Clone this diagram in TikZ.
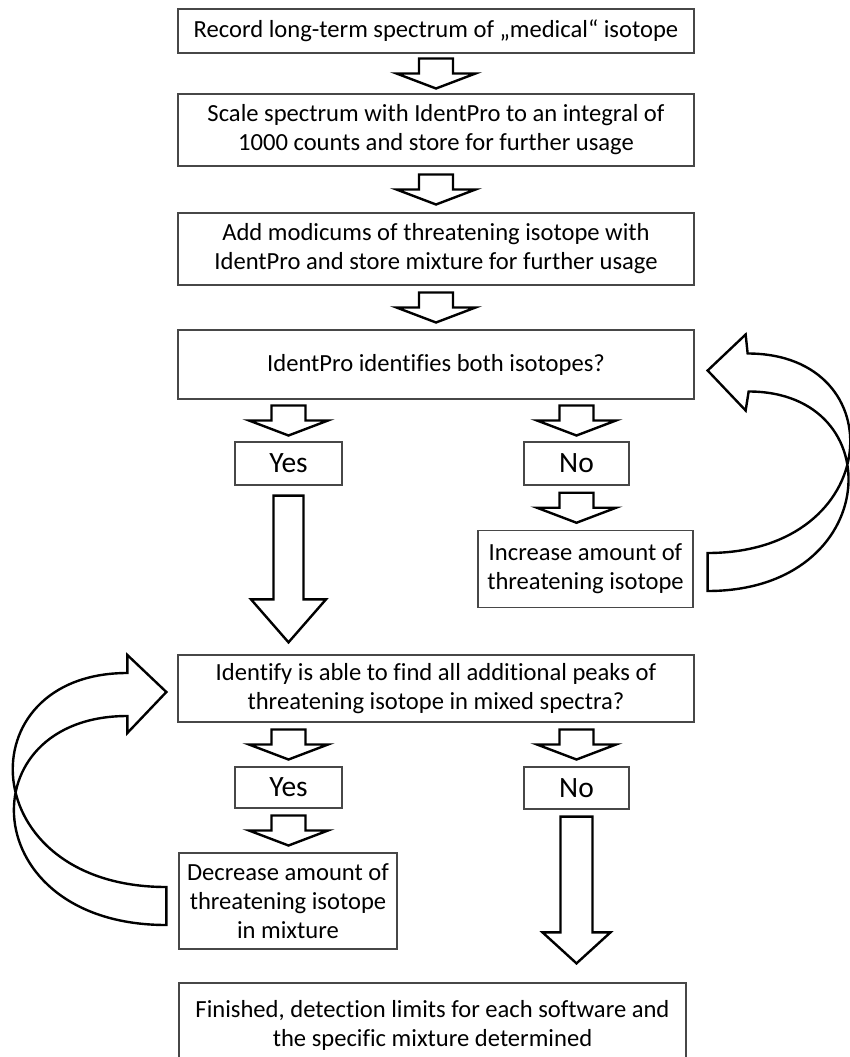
\documentclass[tikz,border=0pt]{standalone}
\usepackage{fontspec}
\setmainfont{Carlito}[Ligatures=NoCommon]
\usetikzlibrary{calc}
\tikzset{
  box/.style={draw=black!72, line width=1.3pt, align=center, inner sep=0pt,
    font=\fontsize{24.6}{29}\selectfont},
  yn/.style={box, font=\fontsize{29.5}{32}\selectfont},
  blk/.style={draw=black, line width=2.4pt, line join=miter},
}
\newcommand{\sdown}[2]{%
  \draw[blk] let \p1=($(#1)!0.5!(#2)$), \p2=(#2) in
    (\x2-17pt,\y1+15pt) -- (\x2+17pt,\y1+15pt) -- (\x2+17pt,\y1) -- (\x2+39.5pt,\y1)
    -- (\x2,\y1-15pt) -- (\x2-39.5pt,\y1) -- (\x2-17pt,\y1) -- cycle;}
\newcommand{\bdown}[5]{%
  \draw[blk] let \p1=(#1), \p2=(#2) in
    (\x1-#3,\y1) -- (\x1+#3,\y1) -- (\x1+#3,\y2+#5) -- (\x1+#4,\y2+#5)
    -- (\x1,\y2) -- (\x1-#4,\y2+#5) -- (\x1-#3,\y2+#5) -- cycle;}
\begin{document}
\begin{tikzpicture}[x=1pt,y=-1pt]
\useasboundingbox (0,0) rectangle (849,1057);

\node[box, minimum width=516pt, minimum height=44pt] (b1) at (436,31)
  {Record long-term spectrum of „medical“ isotope};
\node[box, minimum width=516pt, minimum height=72pt] (b2) at (436,130)
  {Scale spectrum with IdentPro to an integral of\\1000 counts and store for further usage};
\node[box, minimum width=516pt, minimum height=72pt] (b3) at (436,249)
  {Add modicums of threatening isotope with\\IdentPro and store mixture for further usage};
\node[box, minimum width=516pt, minimum height=69pt] (b4) at (436,364.5)
  {IdentPro identifies both isotopes?};
\node[yn, minimum width=107pt, minimum height=43pt] (yes1) at (288.5,463.5) {Yes};
\node[yn, minimum width=105pt, minimum height=43pt] (no1) at (576.5,463.5) {No};
\node[box, minimum width=215pt, minimum height=77pt] (inc) at (585.5,569)
  {Increase amount of\\threatening isotope};
\node[box, minimum width=516pt, minimum height=67pt] (b5) at (436,688.5)
  {Identify is able to find all additional peaks of\\threatening isotope in mixed spectra?};
\node[yn, minimum width=107pt, minimum height=41pt] (yes2) at (288.5,787.5) {Yes};
\node[yn, minimum width=105pt, minimum height=42pt] (no2) at (576.5,788) {No};
\node[box, minimum width=218pt, minimum height=96pt] (dec) at (288,901)
  {Decrease amount of\\threatening isotope\\in mixture};
\node[box, minimum width=507pt, minimum height=84pt] (fin) at (432.5,1025)
  {Finished, detection limits for each software and\\the specific mixture determined};

% small block arrows
\sdown{b1.south}{b2.north}
\sdown{b2.south}{b3.north}
\sdown{b3.south}{b4.north}
\sdown{yes1.north |- b4.south}{yes1.north}
\sdown{no1.north |- b4.south}{no1.north}
\sdown{no1.south}{no1.south |- inc.north}
\sdown{yes2.north |- b5.south}{yes2.north}
\sdown{no2.north |- b5.south}{no2.north}
\sdown{yes2.south}{yes2.south |- dec.north}

% big block arrows
\bdown{$(yes1.south)+(0,10)$}{$(yes1.south |- b5.north)+(0,-12)$}{15pt}{37.5pt}{43pt}
\bdown{$(no2.south)+(0,7)$}{$(no2.south |- fin.north)+(0,-19)$}{16pt}{34pt}{31pt}

% curved arrow: Increase -> IdentPro identifies
\coordinate (rtip) at ($(b4.east)+(13,6)$);
\coordinate (rtail) at ($(inc.east)+(14,3)$);
\draw[blk] (rtip) -- ($(rtip)+(38,-36)$) -- ($(rtip)+(40,-17)$)
  .. controls ($(rtip)+(188,-17)$) and ($(rtail)+(177,-19)$) .. ($(rtail)+(0,-19)$)
  -- ($(rtail)+(0,19)$)
  .. controls ($(rtail)+(175,19)$) and ($(rtip)+(185,21)$) .. ($(rtip)+(41,21)$)
  -- ($(rtip)+(38,40)$) -- cycle;

% curved arrow: Decrease -> Identify
\coordinate (ltip) at ($(b5.west)+(-11,3.5)$);
\coordinate (ltail) at ($(dec.west)+(-12,5)$);
\draw[blk] (ltip) -- ($(ltip)+(-39,-37)$) -- ($(ltip)+(-39,-19)$)
  .. controls ($(ltip)+(-202,-19)$) and ($(ltail)+(-193,-19)$) .. ($(ltail)+(0,-19)$)
  -- ($(ltail)+(0,19)$)
  .. controls ($(ltail)+(-192,19)$) and ($(ltip)+(-200,24)$) .. ($(ltip)+(-39,24)$)
  -- ($(ltip)+(-39,41)$) -- cycle;
\end{tikzpicture}
\end{document}
